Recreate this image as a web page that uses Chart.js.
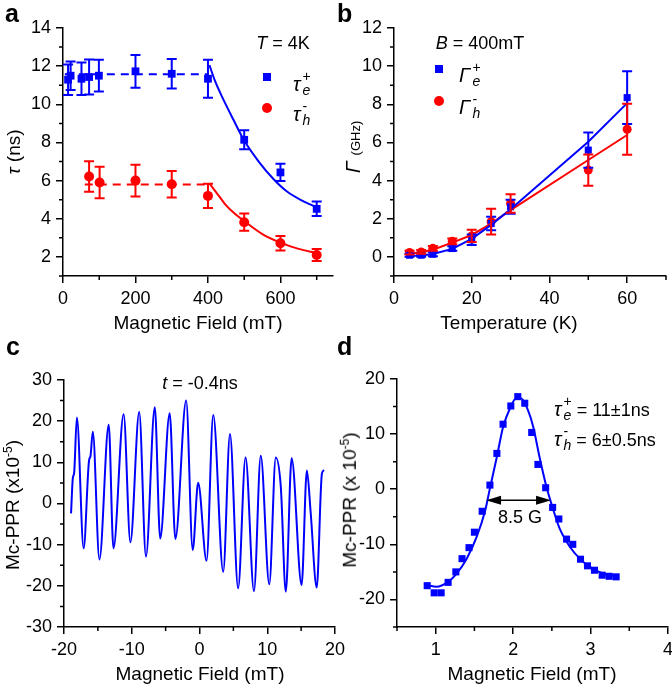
<!DOCTYPE html>
<html>
<head>
<meta charset="utf-8">
<script src="https://cdn.jsdelivr.net/npm/chart.js@4/dist/chart.umd.min.js"></script>
<style>
  html, body { margin: 0; padding: 0; background: #fff; overflow: hidden; }
  body { width: 672px; height: 685px; position: relative; font-family: "Liberation Sans", Arial, sans-serif; color: #000; }
  canvas { position: absolute; }
  .lbl { position: absolute; white-space: nowrap; font-size: 18px; line-height: 1; z-index: 5; }
  .ctr { transform: translate(-50%, -50%); }
  .rot { transform: translate(-50%, -50%) rotate(-90deg); }
  .letter { position: absolute; font-weight: bold; font-size: 25px; line-height: 1; z-index: 5; }
  .stk { display: inline-flex; flex-direction: column; font-size: 14px; line-height: 14px; vertical-align: 10px; margin-left: 2px; text-align: left; }
  .sq { position: absolute; width: 8px; height: 8px; background: #0000ff; z-index: 5; }
  .dot { position: absolute; width: 10px; height: 10px; border-radius: 50%; background: #ff0000; z-index: 5; }
  sup { font-size: 12px; }
</style>
</head>
<body>
<canvas id="chartA" width="340" height="340" style="left:0;top:0"></canvas>
<canvas id="chartB" width="336" height="340" style="left:336px;top:0"></canvas>
<canvas id="chartC" width="360" height="345" style="left:0;top:340px"></canvas>
<canvas id="chartD" width="346" height="345" style="left:336px;top:340px"></canvas>

<!-- panel letters -->
<div class="letter" style="left:5px;top:1px">a</div>
<div class="letter" style="left:337px;top:1px">b</div>
<div class="letter" style="left:6px;top:334px">c</div>
<div class="letter" style="left:337px;top:334px">d</div>

<!-- panel a texts -->
<div class="lbl ctr" style="left:198px;top:322px;font-size:19px">Magnetic Field (mT)</div>
<div class="lbl rot" style="left:13px;top:152px;font-size:19px"><i>τ</i> (ns)</div>
<div class="lbl ctr" style="left:283px;top:43px"><i>T</i> = 4K</div>
<div class="sq" style="left:263px;top:73px"></div>
<div class="lbl" style="left:293px;top:69px;font-size:20px"><i>τ</i><span class="stk"><span>+</span><i>e</i></span></div>
<div class="dot" style="left:262px;top:103px"></div>
<div class="lbl" style="left:293px;top:99px;font-size:20px"><i>τ</i><span class="stk"><span>-</span><i>h</i></span></div>

<!-- panel b texts -->
<div class="lbl ctr" style="left:509px;top:322px;font-size:19px">Temperature (K)</div>
<div class="lbl rot" style="left:352px;top:147px;font-size:21px"><i>Γ</i> <span style="font-size:13px">(GHz)</span></div>
<div class="lbl ctr" style="left:480px;top:43px"><i>B</i> = 400mT</div>
<div class="sq" style="left:435px;top:65px"></div>
<div class="lbl" style="left:459px;top:60px;font-size:20px"><i>Γ</i><span class="stk"><span>+</span><i>e</i></span></div>
<div class="dot" style="left:434px;top:96px"></div>
<div class="lbl" style="left:459px;top:92px;font-size:20px"><i>Γ</i><span class="stk"><span>-</span><i>h</i></span></div>

<!-- panel c texts -->
<div class="lbl ctr" style="left:200px;top:673px;font-size:19px">Magnetic Field (mT)</div>
<div class="lbl rot" style="left:12px;top:505px;font-size:19px">Mc-PPR (x10<sup>-5</sup>)</div>
<div class="lbl ctr" style="left:200px;top:383px"><i>t</i> = -0.4ns</div>

<!-- panel d texts -->
<div class="lbl ctr" style="left:532px;top:673px;font-size:19px">Magnetic Field (mT)</div>
<div class="lbl rot" style="left:349px;top:500px;font-size:19px">Mc-PPR (x 10<sup>-5</sup>)</div>
<div class="lbl" style="left:554px;top:394px"><i style="font-size:20px">τ</i><span class="stk"><span>+</span><i>e</i></span> = 11±1ns</div>
<div class="lbl" style="left:554px;top:424px"><i style="font-size:20px">τ</i><span class="stk"><span>-</span><i>h</i></span> = 6±0.5ns</div>
<div class="lbl ctr" style="left:520px;top:517px">8.5 G</div>

<script>
// ---- panel a: lifetimes vs magnetic field ----
const fieldE = [14, 21, 51, 72, 99, 200, 300, 400, 500, 600, 700];
const tauE = [11.29, 11.5, 11.34, 11.43, 11.5, 11.73, 11.6, 11.34, 8.14, 6.43, 4.52];
const tauEErr = [0.8, 0.75, 0.85, 0.92, 0.83, 0.86, 0.77, 1.0, 0.5, 0.45, 0.38];
const fieldH = [72, 101, 200, 300, 400, 500, 600, 700];
const tauH = [6.22, 5.9, 6.0, 5.81, 5.2, 3.82, 2.72, 2.1];
const tauHErr = [0.8, 0.83, 0.83, 0.7, 0.63, 0.45, 0.38, 0.32];
const plateauFieldE = [5, 400];
const plateauE = [11.58, 11.58];
const plateauFieldH = [60, 400];
const plateauH = [5.8, 5.8];
const fitFieldE = [404, 420, 440, 470, 500, 540, 580, 620, 660, 700];
const fitE = [12.05, 11.2, 10.35, 9.2, 8.1, 7.0, 6.1, 5.4, 4.95, 4.6];
const fitFieldH = [404, 430, 450, 475, 500, 550, 600, 650, 700];
const fitH = [5.85, 5.2, 4.7, 4.25, 3.88, 3.2, 2.75, 2.42, 2.2];
const ticksAX = [0, 200, 400, 600];
const minorAX = [100, 300, 500, 700];
const ticksAY = [2, 4, 6, 8, 10, 12, 14];
const minorAY = [1, 3, 5, 7, 9, 11, 13];

// ---- panel b: rates vs temperature ----
const temps = [4, 7, 10, 15, 20, 25, 30, 50, 60];
const gammaE = [0.09, 0.09, 0.14, 0.44, 0.9, 1.75, 2.63, 5.6, 8.35];
const gammaEErr = [0.08, 0.08, 0.1, 0.12, 0.28, 0.35, 0.37, 0.92, 1.38];
const gammaH = [0.23, 0.26, 0.45, 0.82, 1.1, 1.85, 2.8, 4.55, 6.69];
const gammaHErr = [0.1, 0.1, 0.12, 0.15, 0.32, 0.68, 0.48, 0.82, 1.34];
const gammaEFit = [0.05, 0.08, 0.15, 0.42, 0.95, 1.68, 2.5, 6.04, 8.06];
const gammaHFit = [0.18, 0.25, 0.38, 0.75, 1.15, 1.75, 2.45, 5.08, 6.39];
const ticksBX = [0, 20, 40, 60];
const minorBX = [10, 30, 50, 70];
const ticksBY = [0, 2, 4, 6, 8, 10, 12];
const minorBY = [-1, 1, 3, 5, 7, 9, 11];

// ---- panel c: oscillating signal at t = -0.4 ns ----
const fieldC = [-18.96, -18.7, -18.5, -18.1, -17.1, -16.3, -16.1, -15.75, -14.77, -13.4, -12.7, -11.2, -10.2,
  -8.9, -7.9, -6.6, -5.8, -4.4, -3.56, -1.97, -1.0, -0.2, 1.04, 2.03, 3.5, 4.5, 5.7, 6.8, 8.04, 9.04, 10.3,
  11.26, 12.0, 12.74, 13.6, 15.07, 15.85, 16.4, 17.3, 18.07, 18.4];
const signalC = [-2.4, 6.1, 7.5, 20.9, -10.9, 10.5, 11.4, 17.4, -13.6, 19.1, -10.9, 21.7, -9.4,
  22.2, -12.9, 23.4, -8.5, 21.9, -8.6, 25, -11.3, 5.05, -13.9, 21.5, -16.6, 16.9, -20.6, 11.2, -21.3, 11.6, -19.6,
  11.2, 4.1, -21.4, 11, -19.8, 8.0, -2, -20.4, 7.3, 8.1];
const ticksCX = [-20, -10, 0, 10, 20];
const minorCX = [-15, -5, 5, 15];
const ticksCY = [-30, -20, -10, 0, 10, 20, 30];
const minorCY = [-25, -15, -5, 5, 15, 25];

// ---- panel d: averaged resonance ----
const fieldD = [0.89, 0.98, 1.07, 1.16, 1.26, 1.34, 1.43, 1.5, 1.6, 1.7, 1.79, 1.87, 1.97, 2.06, 2.15, 2.24,
  2.32, 2.42, 2.51, 2.59, 2.69, 2.77, 2.87, 2.96, 3.05, 3.15, 3.24, 3.33];
const signalD = [-17.5, -18.8, -18.8, -16.9, -15.0, -12.6, -10.6, -7.8, -4.0, 0.75, 6.5, 11.8, 15.1, 16.8, 15.6, 10.3,
  4.5, 0.27, -3.3, -5.4, -9.05, -10.0, -12.7, -13.9, -14.7, -15.6, -15.8, -15.9];
const fitFieldD = [0.89, 1.01, 1.16, 1.27, 1.4, 1.53, 1.64, 1.7, 1.79, 1.87, 1.96, 2.04, 2.1, 2.19, 2.26, 2.34,
  2.43, 2.52, 2.6, 2.73, 2.86, 2.99, 3.16, 3.33];
const fitD = [-17.4, -17.7, -16.8, -15.3, -12.6, -8.6, -3.8, 0.15, 5.9, 11.3, 14.7, 16.5, 16.5, 14.4, 11.3, 5.9,
  0.45, -3.8, -7.1, -10.4, -12.6, -14.1, -15.3, -15.8];
const fwhmFrom = 1.65;
const fwhmTo = 2.49;
const fwhmLevel = -2;
const ticksDX = [1, 2, 3, 4];
const minorDX = [0.5, 1.5, 2.5, 3.5];
const ticksDY = [-20, -10, 0, 10, 20];
const minorDY = [-25, -15, -5, 5, 15];

const BLUE = '#0000ff';
const RED = '#ff0000';

const pts = (xs, ys) => xs.map((x, i) => ({x: x, y: ys[i]}));

const errorBars = {
  id: 'errorBars',
  afterDatasetsDraw(chart) {
    const {ctx} = chart;
    const x = chart.scales.x, y = chart.scales.y;
    ctx.save();
    chart.data.datasets.forEach(ds => {
      if (!ds.errorBars) return;
      ctx.strokeStyle = ds.borderColor;
      ctx.lineWidth = 2;
      ds.data.forEach((p, i) => {
        const e = ds.errorBars[i];
        const px = x.getPixelForValue(p.x);
        const top = y.getPixelForValue(p.y + e);
        const bot = y.getPixelForValue(p.y - e);
        ctx.beginPath();
        ctx.moveTo(px, top); ctx.lineTo(px, bot);
        ctx.moveTo(px - 5, top); ctx.lineTo(px + 5, top);
        ctx.moveTo(px - 5, bot); ctx.lineTo(px + 5, bot);
        ctx.stroke();
      });
    });
    ctx.restore();
  }
};

const minorTicks = {
  id: 'minorTicks',
  afterDraw(chart, args, opts) {
    const {ctx, chartArea} = chart;
    const x = chart.scales.x, y = chart.scales.y;
    ctx.save();
    ctx.strokeStyle = '#000';
    ctx.lineWidth = 1.5;
    ctx.beginPath();
    (opts.x || []).forEach(v => {
      const px = x.getPixelForValue(v);
      ctx.moveTo(px, chartArea.bottom); ctx.lineTo(px, chartArea.bottom + 4);
    });
    (opts.y || []).forEach(v => {
      const py = y.getPixelForValue(v);
      ctx.moveTo(chartArea.left, py); ctx.lineTo(chartArea.left - 4, py);
    });
    ctx.stroke();
    ctx.restore();
  }
};

const fwhmArrow = {
  id: 'fwhmArrow',
  afterDatasetsDraw(chart, args, opts) {
    if (opts.from === undefined) return;
    const {ctx} = chart;
    const x1 = chart.scales.x.getPixelForValue(opts.from);
    const x2 = chart.scales.x.getPixelForValue(opts.to);
    const py = chart.scales.y.getPixelForValue(opts.level);
    ctx.save();
    ctx.strokeStyle = '#000';
    ctx.fillStyle = '#000';
    ctx.lineWidth = 1.5;
    ctx.beginPath(); ctx.moveTo(x1 + 10, py); ctx.lineTo(x2 - 10, py); ctx.stroke();
    ctx.beginPath(); ctx.moveTo(x1, py); ctx.lineTo(x1 + 15, py - 4.5); ctx.lineTo(x1 + 15, py + 4.5); ctx.closePath(); ctx.fill();
    ctx.beginPath(); ctx.moveTo(x2, py); ctx.lineTo(x2 - 15, py - 4.5); ctx.lineTo(x2 - 15, py + 4.5); ctx.closePath(); ctx.fill();
    ctx.restore();
  }
};

function axis(min, max, ticks, isX, size) {
  return {
    type: 'linear',
    min: min,
    max: max,
    afterBuildTicks: s => { s.ticks = ticks.map(v => ({value: v})); },
    afterFit: s => { if (isX) s.height = size; else s.width = size; },
    grid: {display: true, drawOnChartArea: false, drawTicks: true, tickLength: 7, color: '#000', lineWidth: 1.5},
    border: {display: true, color: '#000', width: 1.5},
    ticks: {color: '#000', font: {family: 'Liberation Sans', size: 18}, padding: isX ? 5 : 5, maxRotation: 0, autoSkip: false}
  };
}

function makeChart(id, w, h, area, datasets, xr, yr, minor, extra) {
  return new Chart(document.getElementById(id), {
    type: 'scatter',
    data: {datasets: datasets},
    options: {
      responsive: false,
      animation: false,
      layout: {padding: {left: 0, top: area.top, right: w - area.right, bottom: 0}},
      scales: {
        x: axis(xr[0], xr[1], xr[2], true, h - area.bottom),
        y: axis(yr[0], yr[1], yr[2], false, area.left)
      },
      plugins: {
        legend: {display: false},
        tooltip: {enabled: false},
        minorTicks: minor,
        fwhmArrow: extra || {}
      }
    },
    plugins: [errorBars, minorTicks, fwhmArrow]
  });
}

const lineStyle = (color, dash) => ({
  showLine: true, borderColor: color, borderWidth: 2, pointRadius: 0, borderDash: dash || [], fill: false, tension: 0
});

// panel a
makeChart('chartA', 340, 340, {left: 63, top: 28, right: 333, bottom: 276}, [
  Object.assign({data: pts(plateauFieldE, plateauE)}, lineStyle(BLUE, [8, 6])),
  Object.assign({data: pts(plateauFieldH, plateauH)}, lineStyle(RED, [8, 6])),
  Object.assign({data: pts(fitFieldE, fitE), cubicInterpolationMode: 'monotone'}, lineStyle(BLUE)),
  Object.assign({data: pts(fitFieldH, fitH), cubicInterpolationMode: 'monotone'}, lineStyle(RED)),
  {data: pts(fieldE, tauE), errorBars: tauEErr, pointStyle: 'rect', pointRadius: 5.5, backgroundColor: BLUE, borderColor: BLUE, borderWidth: 0},
  {data: pts(fieldH, tauH), errorBars: tauHErr, pointStyle: 'circle', pointRadius: 5, backgroundColor: RED, borderColor: RED, borderWidth: 0}
], [0, 745, ticksAX], [1, 14, ticksAY], {x: minorAX, y: minorAY});

// panel b
makeChart('chartB', 336, 340, {left: 58, top: 28, right: 330, bottom: 276}, [
  Object.assign({data: pts(temps, gammaEFit)}, lineStyle(BLUE)),
  Object.assign({data: pts(temps, gammaHFit)}, lineStyle(RED)),
  {data: pts(temps, gammaE), errorBars: gammaEErr, pointStyle: 'rect', pointRadius: 5, backgroundColor: BLUE, borderColor: BLUE, borderWidth: 0},
  {data: pts(temps, gammaH), errorBars: gammaHErr, pointStyle: 'circle', pointRadius: 4.5, backgroundColor: RED, borderColor: RED, borderWidth: 0}
], [0, 70, ticksBX], [-1, 12, ticksBY], {x: minorBX, y: minorBY});

// panel c
makeChart('chartC', 360, 345, {left: 64, top: 40, right: 335, bottom: 287}, [
  Object.assign({data: pts(fieldC, signalC), cubicInterpolationMode: 'monotone'}, lineStyle(BLUE))
], [-20, 20, ticksCX], [-30, 30, ticksCY], {x: minorCX, y: minorCY});

// panel d
makeChart('chartD', 346, 345, {left: 61, top: 39, right: 332, bottom: 287}, [
  Object.assign({data: pts(fitFieldD, fitD), cubicInterpolationMode: 'monotone'}, lineStyle(BLUE)),
  {data: pts(fieldD, signalD), pointStyle: 'rect', pointRadius: 5, backgroundColor: BLUE, borderColor: BLUE, borderWidth: 0}
], [0.5, 4, ticksDX], [-25, 20, ticksDY], {x: minorDX, y: minorDY},
  {from: fwhmFrom, to: fwhmTo, level: fwhmLevel});
</script>
</body>
</html>
